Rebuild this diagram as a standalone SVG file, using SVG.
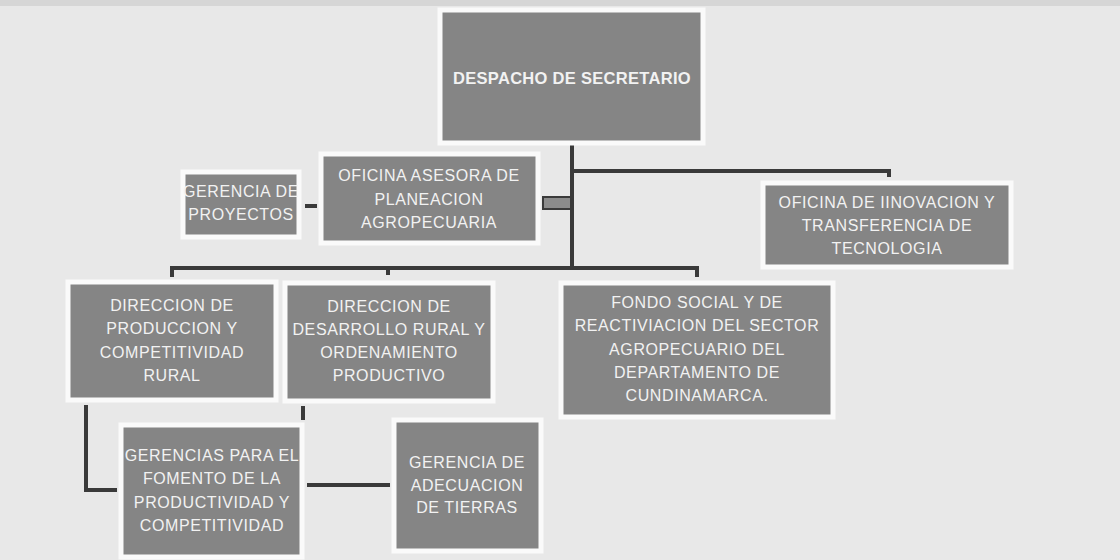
<svg xmlns="http://www.w3.org/2000/svg" width="1120" height="560" viewBox="0 0 1120 560">
<style>
.box{fill:#858585;stroke:#fafafa;stroke-width:5}
.t{font-family:"Liberation Sans",Arial,sans-serif;font-size:16px;letter-spacing:0.6px;fill:#f2f2f2;text-anchor:middle;dominant-baseline:central}
.tb{font-weight:bold;font-size:16.5px;letter-spacing:0.3px}
.c{stroke:#3a3a3a;stroke-width:4;fill:none}
</style>
<rect x="0" y="0" width="1120" height="560" fill="#e8e8e8"/>
<rect x="0" y="0" width="1120" height="6" fill="#d6d6d6"/>
<g id="connectors">
<path class="c" d="M572 143 V268"/>
<path class="c" d="M572 171 H889 V177"/>
<path class="c" d="M172 277 V268 H697 V277"/>
<path class="c" d="M388 268 V275"/>
<path class="c" d="M305 206 H317"/>
<rect x="543" y="197" width="28" height="12" fill="#8c8c8c" stroke="#3a3a3a" stroke-width="2"/>
<path class="c" d="M86 405 V490 H117"/>
<path class="c" d="M303 406 V420" stroke-width="5"/>
<path class="c" d="M307 485 H390" stroke-width="5"/>
</g>
<g id="n1"><rect class="box" x="440" y="10" width="263" height="133"/><text class="t tb" x="572" y="78">DESPACHO DE SECRETARIO</text></g>
<g id="n2"><rect class="box" x="321" y="154" width="217" height="89"/><text class="t" x="429" y="175">OFICINA ASESORA DE</text><text class="t" x="429" y="199">PLANEACION</text><text class="t" x="429" y="222">AGROPECUARIA</text></g>
<g id="n3"><rect class="box" x="183" y="172" width="116" height="65"/><text class="t" x="241" y="191">GERENCIA DE</text><text class="t" x="241" y="214">PROYECTOS</text></g>
<g id="n4"><rect class="box" x="763" y="183" width="248" height="84"/><text class="t" x="887" y="202">OFICINA DE IINOVACION Y</text><text class="t" x="887" y="225">TRANSFERENCIA DE</text><text class="t" x="887" y="248">TECNOLOGIA</text></g>
<g id="n5"><rect class="box" x="68" y="282" width="208" height="118"/><text class="t" x="172" y="305">DIRECCION DE</text><text class="t" x="172" y="328">PRODUCCION Y</text><text class="t" x="172" y="352">COMPETITIVIDAD</text><text class="t" x="172" y="375">RURAL</text></g>
<g id="n6"><rect class="box" x="285" y="283" width="208" height="118"/><text class="t" x="389" y="306">DIRECCION DE</text><text class="t" x="389" y="329">DESARROLLO RURAL  Y</text><text class="t" x="389" y="352">ORDENAMIENTO</text><text class="t" x="389" y="375">PRODUCTIVO</text></g>
<g id="n7"><rect class="box" x="561" y="283" width="272" height="134"/><text class="t" x="697" y="302">FONDO SOCIAL Y DE</text><text class="t" x="697" y="325">REACTIVIACION DEL SECTOR</text><text class="t" x="697" y="349">AGROPECUARIO DEL</text><text class="t" x="697" y="372">DEPARTAMENTO DE</text><text class="t" x="697" y="395">CUNDINAMARCA.</text></g>
<g id="n8"><rect class="box" x="121" y="425" width="181" height="132"/><text class="t" x="212" y="455">GERENCIAS PARA EL</text><text class="t" x="212" y="478">FOMENTO DE LA</text><text class="t" x="212" y="502">PRODUCTIVIDAD Y</text><text class="t" x="212" y="525">COMPETITIVIDAD</text></g>
<g id="n9"><rect class="box" x="394" y="420" width="147" height="131"/><text class="t" x="467" y="462">GERENCIA DE</text><text class="t" x="467" y="485">ADECUACION</text><text class="t" x="467" y="507">DE TIERRAS</text></g>
</svg>
